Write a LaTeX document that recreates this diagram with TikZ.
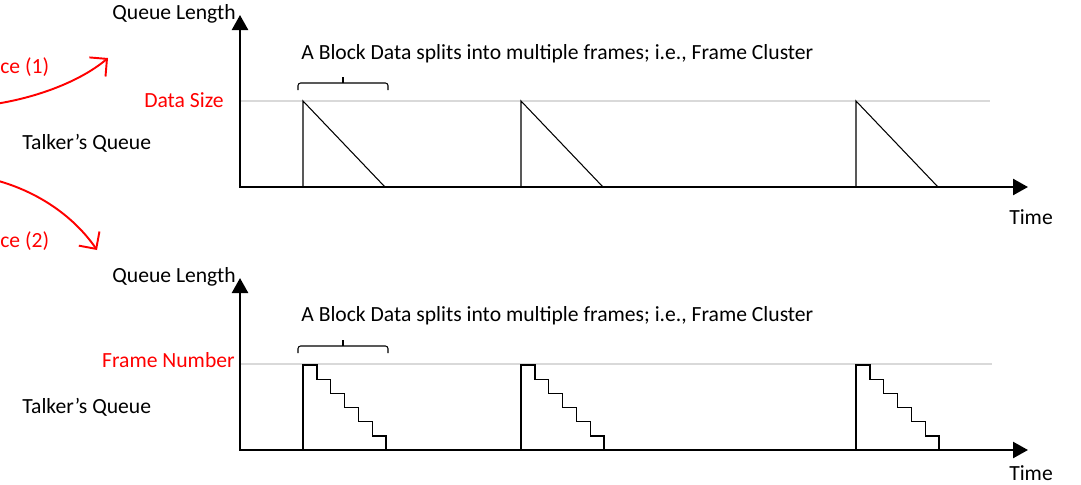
\documentclass[tikz,border=0pt]{standalone}
\usepackage{fontspec}
\setmainfont{Carlito}
\usetikzlibrary{arrows.meta}

\begin{document}
\begin{tikzpicture}[x=0.02cm,y=-0.02cm,font=\fontsize{12.3}{14}\selectfont]
\tikzstyle{axis}=[line width=1.4pt,{Triangle[length=0.3cm,width=0.32cm]}-{Triangle[length=0.3cm,width=0.32cm]}]
\tikzstyle{level}=[line width=0.6pt,color=black!15]
\tikzstyle{drain}=[line width=0.6pt]
\tikzstyle{cluster}=[line width=0.6pt,rounded corners=1.5pt]
\tikzstyle{flow}=[red,line width=1.1pt,-{Straight Barb[length=0.25cm,width=0.5cm]}]
\tikzstyle{lbl}=[inner sep=0pt]
\useasboundingbox (0,0) rectangle (1081,484);

% left side
\path (0,67) node[lbl,anchor=west,red](seq1){ce (1)};
\path (0,241) node[lbl,anchor=west,red](seq2){ce (2)};
\coordinate (s1) at (-5,104); \coordinate (t1) at (108,58);
\coordinate (s2) at (-5,180); \coordinate (t2) at (97,250);
\draw[flow] (s1) .. controls (40,97) and (82,80) .. (t1);
\draw[flow] (s2) .. controls (40,192) and (75,218) .. (t2);

% upper queue
\coordinate (o1) at (240,187); \coordinate (y1) at (240,15); \coordinate (x1) at (1028,187);
\path (174,14) node[lbl](ql1){Queue Length};
\path (1031,217) node[lbl](time1){Time};
\path (224,100) node[lbl,anchor=east,red](ds){Data Size};
\path (22,143) node[lbl,anchor=west](tq1){Talker’s Queue};
\path (301,54) node[lbl,anchor=west](blk1){A Block Data splits into multiple frames; i.e., Frame Cluster};
\draw[level] (240,101) -- (990,101);
\draw[axis] (y1) -- (o1) -- (x1);
\draw[drain] (303,187) -- (303,101) -- (385,187);
\draw[drain] (521,187) -- (521,101) -- (603,187);
\draw[drain] (856,187) -- (856,101) -- (938,187);
\draw[cluster] (298,90) -- (298,83) -- (388,83) -- (388,90);
\draw[drain] (343,83) -- (343,77);

% lower queue
\coordinate (o2) at (240,450); \coordinate (y2) at (240,278); \coordinate (x2) at (1028,450);
\path (174,277) node[lbl](ql2){Queue Length};
\path (1031,473) node[lbl](time2){Time};
\path (235,360) node[lbl,anchor=east,red](fn){Frame Number};
\path (22,407) node[lbl,anchor=west](tq2){Talker’s Queue};
\path (301,316) node[lbl,anchor=west](blk2){A Block Data splits into multiple frames; i.e., Frame Cluster};
\draw[level] (240,364) -- (992,364);
\draw[axis] (y2) -- (o2) -- (x2);
\foreach \s in {303,521,856}
  \draw[drain] (\s,450) -- (\s,365) -- ++(14,0)
    \foreach \i in {1,...,5} { -- ++(0,14.2) -- ++(13.8,0) } -- ++(0,14);
\draw[cluster] (298,353) -- (298,346) -- (388,346) -- (388,353);
\draw[drain] (343,346) -- (343,340);
\end{tikzpicture}
\end{document}
